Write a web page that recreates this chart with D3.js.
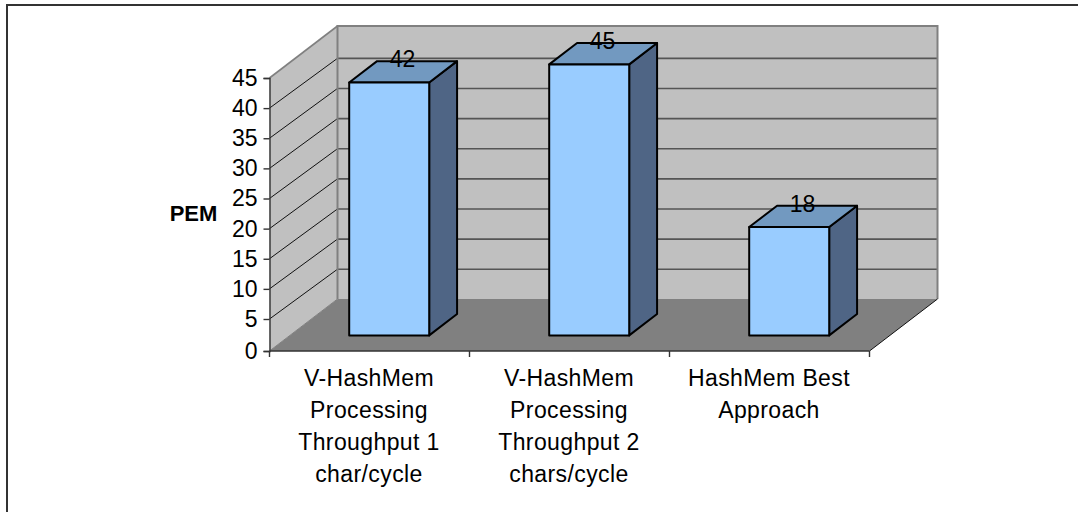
<!DOCTYPE html>
<html>
<head>
<meta charset="utf-8">
<style>
html, body { margin: 0; padding: 0; background: #fff; }
svg { display: block; }
text { font-family: "Liberation Sans", Arial, sans-serif; fill: #000; }
</style>
<script src="https://cdn.jsdelivr.net/npm/d3@7"></script>
</head>
<body>
<svg id="chart" width="1078" height="512"></svg>
<script>
const categories = [
  ["V-HashMem", "Processing", "Throughput 1", "char/cycle"],
  ["V-HashMem", "Processing", "Throughput 2", "chars/cycle"],
  ["HashMem Best", "Approach"]
];
const pemValues = [42, 45, 18];
const tickValues = [0, 5, 10, 15, 20, 25, 30, 35, 40, 45];
const axisTitle = "PEM";

const svg = d3.select("#chart");

// Front plane of the 3D box
const left = 269.5, right = 869.5, y0 = 351, yTop = 78;
// Offset of the back wall from the front plane
const depthX = 68, depthY = -52;
// Gridlines meet the back wall a little lower than the wall's own corners
const gridDepthY = -49.8;

const x = d3.scaleBand().domain(d3.range(pemValues.length)).range([left, right]);
// The first tick interval is slightly taller than the rest
const y = d3.scaleLinear().domain([0, 5, 45]).range([y0, 319, yTop]);

// Bars sit inside the box depth and have a slightly shorter vertical scale
const depthStart = 0.3, depthEnd = 0.71;
const barFraction = 0.4;
const barScale = d3.scaleLinear().domain([0, 45]).range([0, 271]);

const pts = a => a.map(p => p.join(",")).join(" ");

// Outer frame: only the top and left edges are visible
svg.append("path")
  .attr("d", "M1078,5H7V512")
  .attr("fill", "none").attr("stroke", "#333").attr("stroke-width", 2);

// Floor
svg.append("polygon")
  .attr("points", pts([[left, y0], [right, y0], [right + depthX, y0 + depthY], [left + depthX, y0 + depthY]]))
  .attr("fill", "#808080");

// Side wall
svg.append("polygon")
  .attr("points", pts([[left, y0], [left, yTop], [left + depthX, yTop + depthY], [left + depthX, y0 + depthY]]))
  .attr("fill", "#c0c0c0");

// Back wall
svg.append("rect")
  .attr("x", left + depthX).attr("y", yTop + depthY)
  .attr("width", right - left).attr("height", y0 - yTop)
  .attr("fill", "#c0c0c0");

// Gridlines across the back wall and side wall
const interiorTicks = tickValues.slice(1, -1);
svg.append("g").selectAll("line").data(interiorTicks).join("line")
  .attr("x1", left + depthX).attr("x2", right + depthX)
  .attr("y1", d => y(d) + gridDepthY).attr("y2", d => y(d) + gridDepthY)
  .attr("stroke", "#555").attr("stroke-width", 1.6);
svg.append("g").selectAll("line").data(interiorTicks).join("line")
  .attr("x1", left).attr("x2", left + depthX)
  .attr("y1", d => y(d)).attr("y2", d => y(d) + gridDepthY)
  .attr("stroke", "#111").attr("stroke-width", 1);
svg.append("line")
  .attr("x1", left).attr("y1", yTop).attr("x2", left + depthX).attr("y2", yTop + depthY)
  .attr("stroke", "#808080").attr("stroke-width", 1.6);

// Wall borders
svg.append("path")
  .attr("d", `M${left + depthX},${y0 + depthY}V${yTop + depthY}H${right + depthX}V${y0 + depthY}`)
  .attr("fill", "none").attr("stroke", "#808080").attr("stroke-width", 2);

// Diagonal edges of the floor
svg.append("line")
  .attr("x1", left).attr("y1", y0).attr("x2", left + depthX).attr("y2", y0 + depthY)
  .attr("stroke", "#808080").attr("stroke-width", 1);
svg.append("line")
  .attr("x1", right).attr("y1", y0).attr("x2", right + depthX).attr("y2", y0 + depthY)
  .attr("stroke", "#111").attr("stroke-width", 1);

// Value axis along the left front edge
const yAxis = d3.axisLeft(y).tickValues(tickValues).tickSize(6).tickPadding(6);
const gy = svg.append("g").attr("transform", `translate(${left},0)`).call(yAxis);
gy.selectAll("text").attr("font-size", 23).style("font-family", '"Liberation Sans", Arial, sans-serif');
gy.selectAll("line, path").attr("stroke", "#333").attr("stroke-width", 1.4);

// Category axis along the bottom front edge
svg.append("line").attr("x1", left).attr("x2", right).attr("y1", y0).attr("y2", y0)
  .attr("stroke", "#333").attr("stroke-width", 1.4);
svg.append("g").selectAll("line").data(d3.range(pemValues.length + 1)).join("line")
  .attr("x1", i => left + i * x.bandwidth()).attr("x2", i => left + i * x.bandwidth())
  .attr("y1", y0).attr("y2", y0 + 6)
  .attr("stroke", "#333").attr("stroke-width", 1.4);

// Bars: front face, top face, side face, then the value label
const bars = svg.append("g").selectAll("g").data(pemValues).join("g");
const barW = x.bandwidth() * barFraction;
bars.each(function (v, i) {
  const g = d3.select(this);
  const bx = x(i) + (x.bandwidth() - barW) / 2 + depthX * depthStart - 0.7;
  const by = y0 + depthY * depthStart;
  const h = barScale(v);
  const dx = depthX * (depthEnd - depthStart), dy = depthY * (depthEnd - depthStart);
  const style = s => s.attr("stroke", "#000").attr("stroke-width", 2).attr("stroke-linejoin", "round");
  style(g.append("polygon")
    .attr("points", pts([[bx + barW, by], [bx + barW + dx, by + dy], [bx + barW + dx, by - h + dy], [bx + barW, by - h]]))
    .attr("fill", "#4f6585"));
  style(g.append("polygon")
    .attr("points", pts([[bx, by - h], [bx + dx, by - h + dy], [bx + barW + dx, by - h + dy], [bx + barW, by - h]]))
    .attr("fill", "#7299c0"));
  style(g.append("rect")
    .attr("x", bx).attr("y", by - h).attr("width", barW).attr("height", h)
    .attr("fill", "#99ccff"));
  g.append("text")
    .attr("x", bx + barW / 2 + dx / 2 - 0.5)
    .attr("y", by - h + dy + 6)
    .attr("text-anchor", "middle").attr("font-size", 23)
    .text(v);
});

// Category labels, one line per text row
svg.append("g").selectAll("text").data(categories).join("text")
  .attr("text-anchor", "middle").attr("font-size", 23).attr("letter-spacing", 0.4)
  .attr("y", 386)
  .each(function (rows, i) {
    d3.select(this).selectAll("tspan").data(rows).join("tspan")
      .attr("x", x(i) + x.bandwidth() / 2 - 0.5)
      .attr("dy", (r, k) => k === 0 ? 0 : 32)
      .text(r => r);
  });

// Axis title
svg.append("text")
  .attr("x", 193.5).attr("y", 221)
  .attr("text-anchor", "middle").attr("font-size", 22).attr("font-weight", "bold")
  .text(axisTitle);
</script>
</body>
</html>
